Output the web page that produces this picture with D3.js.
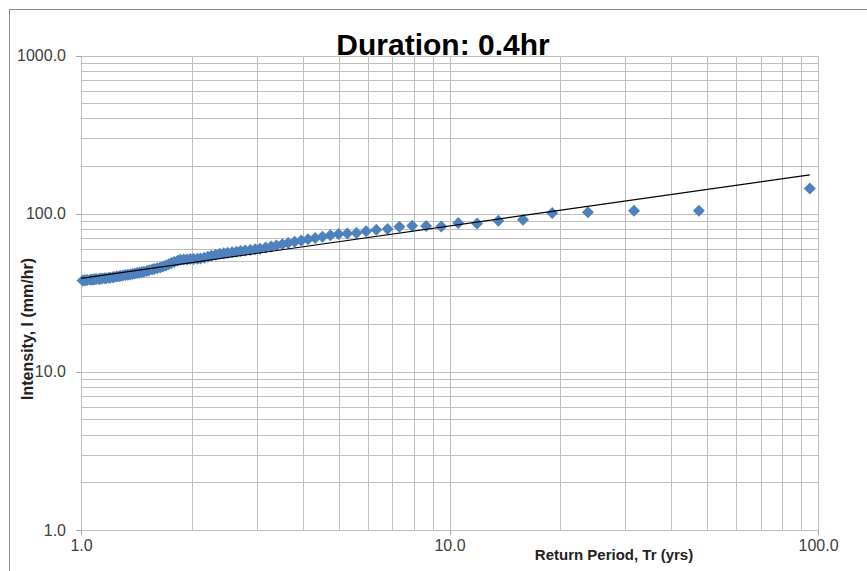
<!DOCTYPE html>
<meta charset="utf-8">
<style>
body { margin: 0; background: #fff; }
text { font-family: "Liberation Sans", Arial, sans-serif; }
.grid line { stroke: #bfbfbf; stroke-width: 1px; shape-rendering: crispEdges; }
.grid path { display: none; }
.axis path, .axis line { stroke: #a6a6a6; shape-rendering: crispEdges; }
.axis text { font-size: 16px; fill: #404040; }
</style>
<svg width="867" height="571"></svg>
<script src="https://d3js.org/d3.v7.min.js"></script>
<script>

// return period Tr (yrs), ranked largest first
var returnPeriod = [95.00, 47.50, 31.67, 23.75, 19.00, 15.83, 13.57, 11.88, 10.56, 9.50,
  8.64, 7.92, 7.31, 6.79, 6.33, 5.94, 5.59, 5.28, 5.00, 4.75,
  4.52, 4.32, 4.13, 3.96, 3.80, 3.65, 3.52, 3.39, 3.28, 3.17,
  3.06, 2.97, 2.88, 2.79, 2.71, 2.64, 2.57, 2.50, 2.44, 2.38,
  2.32, 2.26, 2.21, 2.16, 2.11, 2.07, 2.02, 1.98, 1.94, 1.90,
  1.86, 1.83, 1.79, 1.76, 1.73, 1.70, 1.67, 1.64, 1.61, 1.58,
  1.56, 1.53, 1.51, 1.48, 1.46, 1.44, 1.42, 1.40, 1.38, 1.36,
  1.34, 1.32, 1.30, 1.28, 1.27, 1.25, 1.23, 1.22, 1.20, 1.19,
  1.17, 1.16, 1.14, 1.13, 1.12, 1.10, 1.09, 1.08, 1.07, 1.06,
  1.04, 1.03, 1.02, 1.01];

// intensity I (mm/hr)
var intensity = [144.5, 104.5, 104.5, 102.0, 101.0, 91.6, 90.3, 86.8, 87.3, 83.1,
  83.6, 84.0, 82.8, 80.0, 79.2, 77.3, 75.5, 75.0, 74.5, 73.0,
  71.5, 70.1, 68.8, 67.6, 66.4, 65.2, 64.1, 63.0, 62.0, 61.0,
  60.1, 59.6, 59.0, 58.5, 58.0, 57.5, 57.0, 56.6, 56.2, 55.7,
  54.9, 54.2, 53.5, 52.7, 52.1, 51.9, 51.7, 51.6, 51.4, 51.3,
  51.2, 50.4, 49.5, 48.7, 47.8, 47.1, 46.3, 45.6, 45.1, 44.7,
  44.3, 43.8, 43.4, 43.0, 42.6, 42.3, 42.1, 41.8, 41.6, 41.3,
  41.1, 40.9, 40.6, 40.4, 40.2, 40.0, 39.8, 39.6, 39.4, 39.3,
  39.1, 39.0, 38.9, 38.8, 38.7, 38.6, 38.5, 38.4, 38.3, 38.2,
  38.1, 38.0, 37.9, 37.8];

// power trendline I = a * Tr^b
var trendA = 39.0, trendB = 0.331;
var trendRange = [1, 95];

var xMajor = [1, 10, 100];
var yMajor = [1, 10, 100, 1000];

var svg = d3.select("svg"),
    width = +svg.attr("width"),
    height = +svg.attr("height");

var plotLeft = 81, plotRight = 818, plotTop = 55.5, plotBottom = 530;

// outer chart border
svg.append("rect")
  .attr("x", 9.5).attr("y", 9.5)
  .attr("width", 900).attr("height", 600)
  .attr("fill", "none").attr("stroke", "#8c8c8c");

var x = d3.scaleLog().domain([1, 100]).range([plotLeft, plotRight]);
var y = d3.scaleLog().domain([1, 1000]).range([plotBottom, plotTop]);

function allTicks(majors) {
  var t = [];
  for (var i = 0; i < majors.length - 1; i++)
    for (var k = 1; k < 10; k++) t.push(majors[i] * k);
  t.push(majors[majors.length - 1]);
  return t;
}

// grid
svg.append("g").attr("class", "grid")
  .attr("transform", "translate(0," + plotBottom + ")")
  .call(d3.axisBottom(x).tickValues(allTicks(xMajor)).tickSize(-(plotBottom - plotTop)).tickFormat(""));
svg.append("g").attr("class", "grid")
  .attr("transform", "translate(" + plotLeft + ",0)")
  .call(d3.axisLeft(y).tickValues(allTicks(yMajor)).tickSize(-(plotRight - plotLeft)).tickFormat(""));

// axes with labels
var fmt = d3.format(".1f");
svg.append("g").attr("class", "axis")
  .attr("transform", "translate(0," + plotBottom + ")")
  .call(d3.axisBottom(x).tickValues(xMajor).tickSize(5).tickSizeOuter(0).tickPadding(5).tickFormat(fmt))
  .call(function(g) { g.select(".domain").remove(); });
svg.append("g").attr("class", "axis")
  .attr("transform", "translate(" + plotLeft + ",0)")
  .call(d3.axisLeft(y).tickValues(yMajor).tickSize(5).tickSizeOuter(0).tickPadding(10).tickFormat(fmt))
  .call(function(g) { g.select(".domain").remove(); });

// points
var pts = d3.range(Math.min(returnPeriod.length, intensity.length)).map(function(i) {
  return { tr: returnPeriod[i], v: intensity[i] };
});
var r = 6;
svg.append("g").selectAll("path")
  .data(pts)
  .enter().append("path")
    .attr("d", "M0," + (-r) + "L" + r + ",0L0," + r + "L" + (-r) + ",0Z")
    .attr("transform", function(d) { return "translate(" + x(d.tr) + "," + y(d.v) + ")"; })
    .attr("fill", "#4f81bd");

// trendline
var trendPts = trendRange.map(function(t) { return { tr: t, v: trendA * Math.pow(t, trendB) }; });
svg.append("path")
  .datum(trendPts)
  .attr("fill", "none")
  .attr("stroke", "#000")
  .attr("stroke-width", 1.2)
  .attr("d", d3.line().x(function(d) { return x(d.tr); }).y(function(d) { return y(d.v); }));

// titles
svg.append("text")
  .attr("x", 443).attr("y", 55)
  .attr("text-anchor", "middle")
  .style("font-size", "30px").style("font-weight", "bold")
  .text("Duration: 0.4hr");

svg.append("text")
  .attr("x", 614).attr("y", 560)
  .attr("text-anchor", "middle")
  .style("font-size", "15px").style("font-weight", "bold").style("fill", "#222")
  .text("Return Period, Tr (yrs)");

svg.append("text")
  .attr("transform", "translate(33,329) rotate(-90)")
  .attr("text-anchor", "middle")
  .style("font-size", "16px").style("font-weight", "bold").style("fill", "#222")
  .text("Intensity, I (mm/hr)");

</script>
